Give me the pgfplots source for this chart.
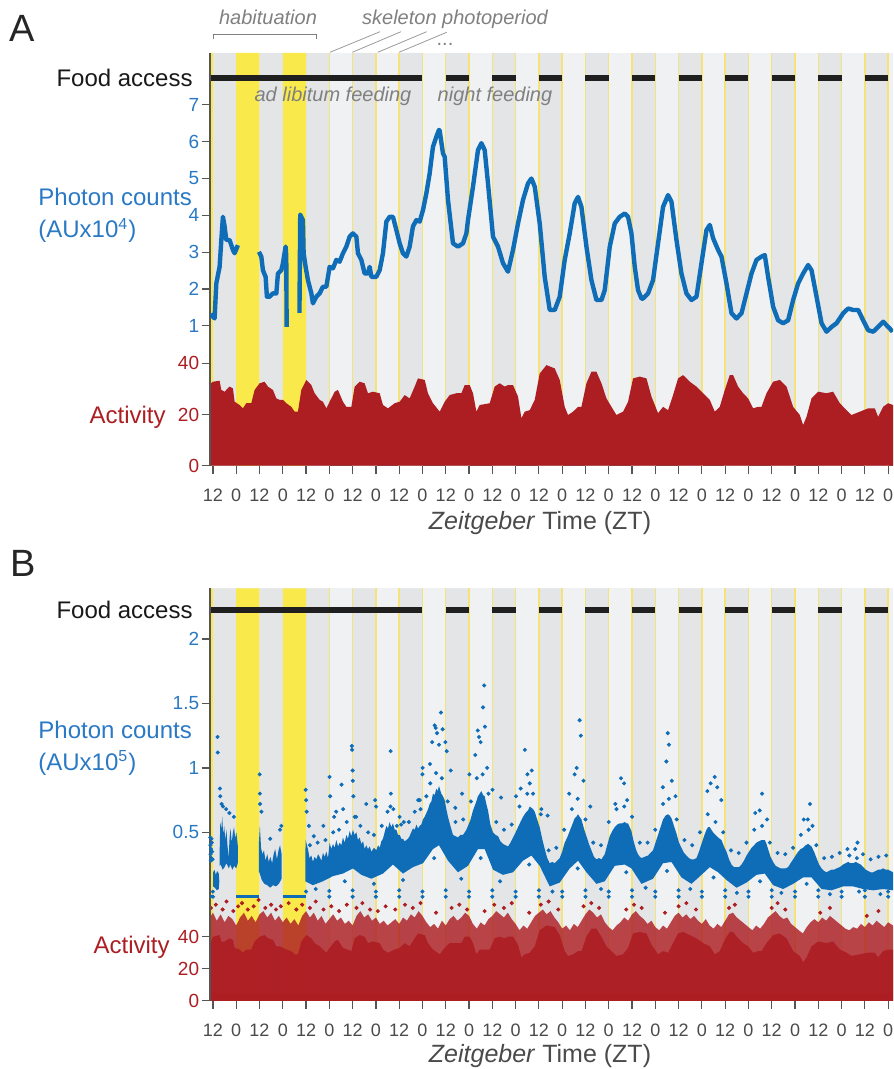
\documentclass[border=0pt]{standalone}
\usepackage{fontspec}
\setmainfont{Liberation Sans}
\usepackage{pgfplots}
\pgfplotsset{compat=1.18}

\definecolor{nightgray}{HTML}{E3E5E7}
\definecolor{daygray}{HTML}{F0F1F3}
\definecolor{lightyel}{HTML}{F9E94B}
\definecolor{yline}{HTML}{F4E27A}
\definecolor{pblue}{HTML}{0F6DB7}
\definecolor{tblue}{HTML}{2A79C4}
\definecolor{ared}{HTML}{AD1E23}
\definecolor{axgray}{HTML}{555555}
\definecolor{txtgray}{HTML}{4A4A4A}
\definecolor{notegray}{HTML}{808080}

\pgfplotsset{
  panel/.style={scale only axis, width=341.5pt, xmin=10.5, xmax=362.5, anchor=south west,
    /pgf/number format/assume math mode=true, tick align=outside, major tick length=4.25pt,
    axis line style={draw=axgray, line width=0.7pt, -}, tick style={draw=axgray, line width=0.6pt},
    yticklabel style={font=\fontsize{9.5}{11}\selectfont, inner sep=1pt}},
  bgaxis/.style={panel, ymin=0, ymax=1, axis x line*=bottom, axis y line*=left, ytick=\empty,
    xtick={12,24,...,360},
    xticklabels={12,0,12,0,12,0,12,0,12,0,12,0,12,0,12,0,12,0,12,0,12,0,12,0,12,0,12,0,12,0},
    xticklabel style={font=\fontsize{9}{10}\selectfont, text=txtgray, yshift=-4pt},
    axis background/.style={fill=daygray}},
  overlay/.style={panel, hide x axis, axis y line*=left},
  bdots/.style={only marks, mark=*, mark size=0.8pt, color=pblue},
  rdots/.style={only marks, mark=*, mark size=0.8pt, color=ared},
}

% shared day/night shading
\newcommand{\bands}[1]{%
  \addplot[ybar interval, fill=nightgray, draw=none] coordinates {
    (12,1)(24,0)(36,1)(48,0)(60,1)(72,0)(84,1)(96,0)(108,1)(120,0)(132,1)(144,0)
    (156,1)(168,0)(180,1)(192,0)(204,1)(216,0)(228,1)(240,0)(252,1)(264,0)(276,1)(288,0)
    (300,1)(312,0)(324,1)(336,0)(348,1)(360,0)(362.5,0)};
  \addplot[ybar interval, fill=lightyel, draw=none] coordinates {
    (10.5,1)(12,0)(24,1)(36,0)(48,1)(60,0)(62,0)};
  \addplot[ycomb, draw=yline, line width=0.7pt, mark=none] coordinates {
    (72,1)(84,1)(96,1)(108,1)(120,1)(132,1)(144,1)(156,1)(168,1)(180,1)(192,1)(204,1)(216,1)
    (228,1)(240,1)(252,1)(264,1)(276,1)(288,1)(300,1)(312,1)(324,1)(336,1)(348,1)(360,1)};
  \addplot[draw=black!88, line width=2.8pt, unbounded coords=jump] coordinates {
    (10.5,#1)(120,#1)(126,nan)(132,#1)(144,#1)(150,nan)(156,#1)(168,#1)(174,nan)
    (180,#1)(192,#1)(198,nan)(204,#1)(216,#1)(222,nan)(228,#1)(240,#1)(246,nan)
    (252,#1)(264,#1)(270,nan)(276,#1)(288,#1)(294,nan)(300,#1)(312,#1)(318,nan)
    (324,#1)(336,#1)(342,nan)(348,#1)(360,#1)};
}

\begin{document}
\begin{tikzpicture}
\useasboundingbox (0,0) rectangle (446.5pt,-534.5pt);

% ---------------- panel A ----------------
\begin{axis}[bgaxis, at={(105pt,-232.85pt)}, height=206.35pt]
  \bands{0.9394}
\end{axis}

\begin{axis}[overlay, at={(105pt,-232.85pt)}, height=206.35pt, ymin=0, ymax=161.2,
  ytick={0,20,40}, yticklabel style={text=ared}]
  \addplot[fill=ared, draw=none] coordinates {
    (10.5,27)(11.0,32.2)(12.0,32.8)(15.45,33.2)(16.32,29.6)(18.03,28.9)(18.9,29.6)(20.6,30.9)
    (22.31,30.2)(23.18,25.0)(25.76,23.7)(27.47,22.4)(29.21,24.4)(31.79,24.4)(33.5,29.6)
    (36.07,32.2)(38.65,32.8)(40.35,30.9)(42.93,29.6)(44.68,26.3)(46.38,25.7)(48.08,25.7)
    (49.84,24.4)(52.41,23.0)(54.12,21.1)(55.82,21.1)(57.56,29.6)(60.14,33.5)(62.73,31.5)
    (64.42,28.3)(67.0,25.7)(68.7,25.0)(70.46,22.4)(72.16,25.0)(74.74,28.9)(76.44,29.6)
    (79.02,25.0)(80.77,23.0)(83.35,23.0)(85.05,30.9)(87.62,32.8)(90.2,32.2)(91.91,28.3)
    (94.49,28.9)(97.94,28.3)(99.64,23.7)(102.22,22.4)(105.67,24.4)(108.25,25.0)(110.83,27.6)
    (113.4,26.3)(115.98,30.9)(117.68,34.1)(121.14,33.5)(122.84,28.3)(125.41,24.4)(128.87,21.1)
    (131.44,25.0)(134.02,27.6)(137.48,28.3)(140.05,28.3)(141.76,31.5)(144.33,31.5)(146.04,28.3)
    (147.79,21.1)(149.49,23.7)(154.64,24.4)(157.22,30.9)(159.8,32.2)(162.38,30.9)(164.08,31.5)
    (166.66,31.5)(169.24,27.0)(170.99,18.5)(172.69,21.1)(175.27,21.7)(177.85,25.7)(180.42,36.0)
    (183.88,39.3)(188.16,38.0)(190.73,33.5)(193.31,23.0)(195.01,19.8)(197.59,21.1)(200.17,23.0)
    (201.92,23.0)(204.5,32.2)(207.08,36.7)(209.66,36.7)(212.23,32.2)(214.81,26.3)(217.39,23.0)
    (219.97,19.8)(223.37,21.1)(225.95,25.0)(228.53,34.1)(231.98,34.8)(235.44,34.1)(238.01,27.0)
    (241.42,20.5)(243.99,23.0)(246.57,21.7)(249.15,27.6)(251.72,34.1)(254.3,35.4)(257.75,32.8)
    (261.21,30.9)(264.61,28.3)(268.07,25.7)(270.65,21.1)(273.22,23.0)(275.8,29.6)(278.37,35.4)
    (280.08,35.4)(282.66,30.9)(285.24,28.3)(287.81,26.3)(290.39,22.4)(292.97,23.0)(294.72,23.0)
    (297.3,28.3)(300.71,32.8)(304.15,33.5)(307.61,30.9)(311.03,23.0)(314.46,19.8)(316.18,15.9)
    (317.92,19.1)(320.5,26.3)(323.9,28.9)(328.23,28.3)(331.63,28.9)(335.08,24.4)(338.54,21.7)
    (341.11,19.8)(345.39,21.1)(349.67,22.4)(353.12,22.4)(354.82,19.1)(357.4,23.0)(359.98,24.4)
    (362.5,23.7)} \closedcycle;
\end{axis}

\begin{axis}[overlay, at={(105pt,-232.85pt)}, height=206.35pt, ymin=-2.80, ymax=8.41,
  ytick={1,2,...,7}, yticklabel style={text=tblue}]
  \addplot[pblue, line width=2.2pt, line join=round, unbounded coords=jump] coordinates {
    (11.17,1.34)(12.0,1.25)(12.87,1.2)(13.75,2.15)(15.45,2.6)(16.3,3.3)(17.15,3.96)(18.03,3.7)
    (18.9,3.33)(20.6,3.33)(22.31,3.06)(23.18,2.97)(24.88,3.19)(30,nan)
    (35.71,3.01)(36.95,2.88)(37.77,2.51)(39.16,2.33)(39.83,1.79)(41.23,1.79)(42.93,1.88)
    (44.68,1.88)(45.51,2.42)(47.26,2.51)(48.08,2.7)(49.47,3.15)(49.8,2.9)(50.0,0.97)(53,nan)
    (56.6,1.35)(57.0,4.02)(57.6,3.95)(58.39,3.87)(58.75,2.97)(59.79,2.6)(60.97,2.24)(62.73,1.88)
    (63.55,1.61)(65.3,1.79)(67.0,1.88)(68.7,2.06)(70.46,2.06)(72.16,2.6)(73.86,2.56)(75.61,2.79)
    (77.31,2.74)(79.02,2.97)(80.77,3.15)(82.47,3.42)(84.17,3.51)(85.93,3.42)(86.75,2.97)(88.5,2.79)
    (90.2,2.42)(91.91,2.42)(92.78,2.6)(93.66,2.33)(96.24,2.33)(97.94,2.51)(99.64,2.97)(101.39,3.83)
    (103.09,3.96)(104.79,3.96)(106.55,3.6)(108.25,3.24)(109.95,2.97)(111.7,2.88)(113.4,3.15)
    (115.1,3.7)(116.86,3.87)(118.56,3.83)(120.26,4.14)(122.01,4.6)(123.71,5.14)(125.41,5.86)
    (127.17,6.14)(128.51,6.32)(128.87,6.3)(130.57,5.68)(131.44,5.59)(133.15,4.42)(135.73,3.24)
    (138.3,3.15)(140.88,3.24)(142.63,3.51)(143.46,3.87)(146.04,4.78)(148.61,5.77)(150.37,5.96)
    (152.07,5.77)(153.77,4.87)(156.35,3.42)(158.93,3.15)(161.51,2.7)(164.08,2.47)(166.66,3.06)
    (169.24,3.78)(171.82,4.42)(174.4,4.87)(176.15,5.0)(177.85,4.78)(180.42,3.78)(183.0,2.33)
    (185.58,1.43)(188.16,1.43)(190.73,1.79)(193.31,2.79)(195.89,3.51)(198.47,4.33)(200.17,4.5)
    (201.92,4.23)(204.5,3.15)(207.08,2.24)(209.66,1.7)(212.23,1.7)(213.94,1.97)(216.52,3.15)
    (219.1,3.78)(221.67,3.96)(224.25,4.05)(225.95,3.96)(227.7,3.51)(229.4,2.6)(231.1,1.97)
    (232.86,1.74)(233.68,1.74)(236.25,1.88)(238.83,2.24)(241.41,3.24)(243.99,4.23)(246.56,4.55)
    (248.32,4.37)(250.9,3.33)(253.47,2.42)(256.05,1.88)(258.63,1.7)(261.21,1.79)(263.79,2.7)
    (266.37,3.6)(268.07,3.74)(269.77,3.38)(272.35,3.06)(274.1,2.88)(276.68,2.15)(279.26,1.34)
    (281.84,1.2)(284.42,1.34)(287.0,1.88)(289.57,2.42)(292.15,2.79)(294.73,2.88)(296.43,2.92)
    (298.13,2.33)(300.71,1.52)(303.29,1.15)(305.87,1.07)(308.45,1.15)(311.03,1.7)(313.6,2.15)
    (316.18,2.42)(318.76,2.65)(320.51,2.51)(323.09,1.79)(325.67,1.07)(328.25,0.84)(330.83,0.97)
    (333.41,1.07)(336.81,1.34)(339.39,1.47)(341.97,1.43)(344.55,1.43)(347.12,1.15)(349.7,0.88)
    (352.28,0.84)(354.86,0.97)(357.44,1.11)(360.02,0.97)(362.3,0.84)};
\end{axis}

% ---------------- panel B ----------------
\begin{axis}[bgaxis, at={(105pt,-500.35pt)}, height=206.2pt]
  \bands{0.9474}
\end{axis}

\begin{axis}[overlay, at={(105pt,-500.35pt)}, height=206.2pt, ymin=0, ymax=257.75,
  ytick={0,20,40}, yticklabel style={text=ared}]
  % sparse upper part of the activity cloud
  \addplot[fill=ared, fill opacity=0.82, draw=none] coordinates {
    (10.5,52)(12,55)(14,50)(16,54)(18,49)(20,53)(22,51)(24,47)(26,52)(28,55)(30,50)(32,53)
    (34,49)(36,54)(38,56)(40,52)(42,55)(44,50)(46,53)(48,49)(50,52)(52,48)(54,51)(56,47)
    (58,53)(60,56)(62,52)(64,55)(66,50)(68,53)(70,48)(72,51)(74,54)(76,50)(78,52)(80,48)
    (82,50)(84,47)(86,53)(88,56)(90,52)(92,54)(94,50)(96,52)(98,48)(100,50)(102,47)(104,49)
    (106,51)(108,48)(110,52)(112,50)(114,54)(116,52)(118,56)(120,53)(122,49)(124,46)(126,48)
    (128,45)(130,50)(132,47)(134,51)(136,53)(138,50)(140,52)(142,55)(144,53)(146,48)(148,45)
    (150,49)(152,47)(154,51)(156,53)(158,56)(160,54)(162,52)(164,55)(166,51)(168,48)(170,44)
    (172,47)(174,45)(176,49)(178,53)(180,55)(182,57)(184,54)(186,56)(188,52)(190,49)(192,45)
    (194,47)(196,44)(198,48)(200,46)(202,50)(204,54)(206,57)(208,55)(210,52)(212,54)(214,49)
    (216,46)(218,44)(220,47)(222,49)(224,52)(226,50)(228,54)(230,56)(232,53)(234,51)(236,48)
    (238,50)(240,46)(242,44)(244,47)(246,45)(248,49)(250,53)(252,55)(254,52)(256,54)(258,51)
    (260,53)(262,50)(264,48)(266,51)(268,47)(270,45)(272,48)(274,46)(276,50)(278,54)(280,55)
    (282,52)(284,50)(286,48)(288,46)(290,44)(292,47)(294,45)(296,48)(298,52)(300,54)(302,56)
    (304,53)(306,51)(308,52)(310,48)(312,46)(314,44)(316,42)(318,46)(320,49)(322,51)(324,49)
    (326,52)(328,50)(330,53)(332,51)(334,49)(336,47)(338,45)(340,44)(342,46)(344,45)(346,48)
    (348,46)(350,49)(352,47)(354,50)(356,48)(358,46)(360,49)(362.5,47)} \closedcycle;
  % dense core of the activity cloud
  \addplot[fill=ared, fill opacity=0.92, draw=none] coordinates {
    (10.5,35)(12,40)(15.45,41)(16.32,37)(18.03,37)(20.6,39)(22.31,38)(23.18,33)(25.76,32)
    (27.47,30)(29.21,32)(31.79,32)(33.5,37)(36.07,40)(38.65,41)(40.35,39)(42.93,38)(44.68,34)
    (46.38,34)(49.84,32)(52.41,31)(54.12,29)(55.82,29)(57.56,37)(60.14,41)(62.73,39)(64.42,36)
    (67.0,34)(70.46,30)(72.16,33)(74.74,37)(76.44,38)(79.02,33)(83.35,31)(85.05,39)(87.62,41)
    (90.2,40)(91.91,36)(94.49,37)(97.94,36)(99.64,32)(102.22,30)(105.67,32)(108.25,33)
    (110.83,36)(113.4,34)(115.98,39)(117.68,42)(121.14,41)(122.84,36)(125.41,32)(128.87,29)
    (131.44,33)(134.02,36)(137.48,36)(140.05,36)(141.76,40)(144.33,40)(146.04,36)(147.79,29)
    (149.49,32)(154.64,32)(157.22,39)(159.8,40)(162.38,39)(164.08,40)(166.66,40)(169.24,35)
    (170.99,27)(172.69,29)(175.27,30)(177.85,34)(180.42,44)(183.88,47)(188.16,46)(190.73,41)
    (193.31,31)(195.01,28)(197.59,29)(200.17,31)(201.92,31)(204.5,40)(207.08,45)(209.66,45)
    (212.23,40)(214.81,34)(217.39,31)(219.97,28)(223.37,29)(225.95,33)(228.53,42)(231.98,43)
    (235.44,42)(238.01,35)(241.42,29)(243.99,31)(246.57,30)(249.15,36)(251.72,42)(254.3,43)
    (257.75,41)(261.21,39)(264.61,36)(268.07,34)(270.65,29)(273.22,31)(275.8,38)(278.37,43)
    (280.08,43)(282.66,39)(285.24,36)(287.81,34)(290.39,30)(292.97,31)(294.72,31)(297.3,36)
    (300.71,41)(304.15,42)(307.61,39)(311.03,31)(314.46,28)(316.18,24)(317.92,27)(320.5,34)
    (323.9,37)(328.23,36)(331.63,37)(335.08,32)(338.54,30)(341.11,28)(345.39,29)(349.67,30)
    (353.12,30)(354.82,27)(357.4,31)(359.98,32)(362.5,32)} \closedcycle;
  \addplot[fill=ared, draw=none] coordinates {(10.5,5)(362.5,5)} \closedcycle;
  \addplot[rdots] coordinates {
    (11,58)(13.5,60)(17,57)(19,62)(22.5,56)(25,59)(27,61)(30,57)(33,59)(35.5,63)(39,58)(42,60)
    (44.5,57)(47,59)(51,61)(55,57)(58,60)(62,58)(65,62)(69,57)(73,59)(77,56)(81,60)(86,58)
    (89,61)(93,57)(97,56)(101,59)(106,57)(111,60)(115,58)(119,61)(127,55)(135,58)(139,60)
    (143,57)(152,56)(157,60)(162,58)(166,61)(175,55)(181,60)(185,62)(190,57)(203,59)(207,61)
    (211,58)(225,57)(229,60)(233,58)(245,55)(252,59)(256,61)(261,57)(278,58)(281,60)(300,58)
    (303,61)(307,57)(325,55)(330,58)(349,53)(355,56)};
\end{axis}

\begin{axis}[overlay, at={(105pt,-500.35pt)}, height=206.2pt, ymin=-0.807, ymax=2.394,
  ytick={0.5,1,1.5,2}, yticklabel style={text=tblue}]
  \addplot[pblue, line width=1.3pt, unbounded coords=jump] coordinates {
    (10.5,0)(12,0)(18,nan)(24,0)(36,0)(42,nan)(48,0)(60,0)};
  \addplot[fill=pblue, draw=none] coordinates {
    (12.1,0.19)(12.8,0.21)(13.5,0.17)(14.2,0.20)(15.0,0.18)(15.3,0.12)(15.0,0.06)(14.0,0.05)
    (13.0,0.07)(12.1,0.08)};
  \addplot[fill=pblue, draw=none] coordinates {
    (15.4,0.30)(15.8,0.58)(16.3,0.52)(16.8,0.62)(17.3,0.48)(17.8,0.55)(18.4,0.44)(19.0,0.52)
    (19.5,0.40)(20.1,0.30)(20.6,0.46)(21.1,0.53)(21.7,0.42)(22.3,0.50)(22.9,0.54)(23.5,0.45)
    (24.1,0.50)(24.8,0.40)(24.8,0.26)(24.0,0.22)(23.0,0.24)(22.0,0.21)(21.0,0.25)(20.2,0.22)
    (19.0,0.26)(18.0,0.23)(17.0,0.21)(16.0,0.25)(15.4,0.24)};
  \addplot[fill=pblue, draw=none] coordinates {
    (35.7,0.42)(36.2,0.55)(36.8,0.38)(37.5,0.33)(38.3,0.36)(39.1,0.28)(40.0,0.33)(40.8,0.27)
    (41.6,0.31)(42.5,0.26)(43.3,0.33)(44.1,0.37)(45.0,0.29)(45.8,0.36)(46.6,0.40)(47.4,0.33)
    (47.4,0.14)(46.0,0.10)(44.5,0.08)(43,0.09)(41.5,0.07)(40,0.09)(38.5,0.10)(37.2,0.13)(35.7,0.20)};
  \addplot[fill=pblue, draw=none] coordinates {
    (59.6,0.30)(59.8,0.44)(60.97,0.37)(61.8,0.30)(62.73,0.32)(63.55,0.27)(64.4,0.31)(65.3,0.29)
    (66.2,0.33)(67.0,0.31)(67.9,0.28)(68.7,0.34)(69.6,0.31)(70.46,0.35)(71.3,0.3)(72.16,0.42)
    (73.0,0.37)(73.86,0.41)(74.7,0.38)(75.61,0.44)(76.5,0.39)(77.31,0.42)(78.2,0.40)(79.02,0.46)
    (79.9,0.42)(80.77,0.48)(81.6,0.45)(82.47,0.51)(83.3,0.47)(84.17,0.52)(85.0,0.48)(85.93,0.50)
    (86.75,0.44)(87.6,0.46)(88.5,0.41)(89.4,0.43)(90.2,0.37)(91.0,0.40)(91.91,0.37)(92.8,0.39)
    (93.66,0.35)(95.0,0.38)(96.24,0.36)(97.1,0.40)(97.94,0.38)(98.8,0.43)(99.64,0.45)(100.5,0.50)
    (101.39,0.55)(102.2,0.53)(103.09,0.58)(103.9,0.54)(104.79,0.57)(105.7,0.52)(106.55,0.52)
    (107.4,0.48)(108.25,0.48)(109.1,0.45)(109.95,0.45)(110.8,0.43)(111.7,0.44)(112.5,0.45)
    (113.4,0.47)(114.2,0.50)(115.1,0.53)(116.0,0.52)(116.86,0.56)(117.7,0.53)(118.56,0.55)
    (119.4,0.56)(120.26,0.60)(121.1,0.62)(122.01,0.65)(122.9,0.68)(123.71,0.72)(124.6,0.74)
    (125.41,0.80)(126.3,0.79)(127.17,0.84)(127.8,0.82)(128.51,0.86)(129.7,0.80)(130.57,0.78)
    (131.44,0.75)(132.3,0.68)(133.15,0.62)(134.4,0.55)(135.73,0.48)(137.0,0.47)(138.3,0.46)
    (139.6,0.48)(140.88,0.48)(141.8,0.50)(142.63,0.52)(143.46,0.55)(144.8,0.60)(146.04,0.67)
    (147.3,0.72)(148.61,0.78)(149.5,0.80)(150.37,0.82)(151.2,0.79)(152.07,0.78)(152.9,0.72)
    (153.77,0.67)(155.0,0.56)(156.35,0.50)(157.6,0.48)(158.93,0.47)(160.2,0.43)(161.51,0.41)
    (162.8,0.40)(164.08,0.39)(165.4,0.42)(166.66,0.46)(168.0,0.50)(169.24,0.54)(170.5,0.58)
    (171.82,0.62)(173.1,0.65)(174.4,0.67)(175.3,0.70)(176.15,0.69)(177.0,0.68)(177.85,0.66)
    (179.1,0.60)(180.42,0.54)(181.7,0.45)(183.0,0.37)(184.3,0.30)(185.58,0.26)(186.9,0.27)
    (188.16,0.26)(189.4,0.28)(190.73,0.30)(192.0,0.35)(193.31,0.42)(194.6,0.46)(195.89,0.51)
    (197.2,0.56)(198.47,0.61)(199.3,0.62)(200.17,0.64)(201.0,0.62)(201.92,0.60)(203.2,0.53)
    (204.5,0.47)(205.8,0.41)(207.08,0.36)(208.4,0.31)(209.66,0.29)(211.0,0.30)(212.23,0.29)
    (213.94,0.33)(215.2,0.40)(216.52,0.47)(217.8,0.51)(219.1,0.54)(220.4,0.56)(221.67,0.57)
    (222.9,0.57)(224.25,0.58)(225.1,0.57)(225.95,0.57)(226.8,0.54)(227.7,0.51)(228.5,0.45)
    (229.4,0.40)(230.2,0.36)(231.1,0.33)(232.0,0.31)(232.86,0.30)(234.5,0.31)(236.25,0.32)
    (237.5,0.34)(238.83,0.36)(240.1,0.42)(241.41,0.48)(242.7,0.54)(243.99,0.60)(245.3,0.63)
    (246.56,0.64)(247.4,0.63)(248.32,0.61)(249.6,0.55)(250.9,0.49)(252.2,0.42)(253.47,0.38)
    (254.8,0.34)(256.05,0.32)(257.3,0.30)(258.63,0.29)(259.9,0.29)(261.21,0.30)(262.5,0.35)
    (263.79,0.41)(265.1,0.47)(266.37,0.52)(267.2,0.54)(268.07,0.54)(268.9,0.52)(269.77,0.50)
    (271.0,0.48)(272.35,0.46)(273.2,0.45)(274.1,0.44)(275.4,0.39)(276.68,0.35)(278.0,0.29)
    (279.26,0.25)(280.5,0.23)(281.84,0.23)(283.1,0.23)(284.42,0.25)(285.7,0.28)(287.0,0.32)
    (288.3,0.35)(289.57,0.38)(290.9,0.40)(292.15,0.42)(293.4,0.43)(294.73,0.44)(295.6,0.44)
    (296.43,0.44)(297.3,0.41)(298.13,0.37)(299.4,0.31)(300.71,0.27)(302.0,0.24)(303.29,0.23)
    (304.6,0.22)(305.87,0.22)(307.2,0.22)(308.45,0.23)(309.7,0.26)(311.03,0.29)(312.3,0.32)
    (313.6,0.35)(314.9,0.37)(316.18,0.38)(317.5,0.40)(318.76,0.41)(319.6,0.40)(320.51,0.39)
    (321.8,0.35)(323.09,0.30)(324.4,0.25)(325.67,0.22)(327.0,0.20)(328.25,0.19)(329.5,0.20)
    (330.83,0.21)(332.1,0.21)(333.41,0.22)(335.1,0.23)(336.81,0.25)(338.1,0.26)(339.39,0.27)
    (340.7,0.26)(341.97,0.26)(343.3,0.27)(344.55,0.26)(345.8,0.25)(347.12,0.23)(348.4,0.21)
    (349.7,0.20)(351.0,0.19)(352.28,0.19)(353.6,0.20)(354.86,0.21)(356.1,0.21)(357.44,0.22)
    (358.7,0.21)(360.02,0.21)(361.2,0.20)(362.5,0.19)
    (362.5,0.05)(357.44,0.06)(352.28,0.05)(347.12,0.06)(341.97,0.08)(336.81,0.08)(330.83,0.05)
    (325.67,0.06)(320.51,0.15)(316.18,0.15)(311.03,0.10)(305.87,0.06)(300.71,0.09)(296.43,0.18)
    (292.15,0.17)(287.0,0.11)(281.84,0.07)(276.68,0.13)(272.35,0.19)(268.07,0.23)(263.79,0.17)
    (258.63,0.10)(253.47,0.15)(248.32,0.27)(243.99,0.26)(238.83,0.14)(232.86,0.10)(227.7,0.22)
    (224.25,0.25)(219.1,0.24)(213.94,0.12)(209.66,0.10)(204.5,0.19)(200.17,0.28)(195.89,0.22)
    (190.73,0.11)(185.58,0.08)(180.42,0.24)(176.15,0.32)(171.82,0.28)(166.66,0.19)(161.51,0.17)
    (156.35,0.21)(152.07,0.37)(148.61,0.37)(143.46,0.24)(138.3,0.19)(133.15,0.28)(128.51,0.40)
    (125.41,0.37)(120.26,0.26)(115.1,0.23)(109.95,0.18)(104.79,0.25)(99.64,0.18)(93.66,0.14)
    (88.5,0.17)(84.17,0.22)(79.02,0.18)(73.86,0.16)(68.7,0.12)(63.55,0.09)(59.6,0.12)};
  % scattered readings at the edges of the cloud
  \addplot[bdots] coordinates {
    (62,0.40)(66,0.42)(70,0.44)(74,0.50)(77,0.52)(81,0.58)(85,0.62)(88,0.55)(92,0.50)(95,0.48)
    (99,0.55)(102,0.66)(105,0.68)(109,0.56)(113,0.58)(116,0.66)(119,0.68)(122,0.78)(124,0.88)
    (127,0.96)(130,0.92)(133,0.74)(137,0.58)(141,0.60)(145,0.74)(148,0.92)(151,0.95)(154,0.80)
    (158,0.58)(162,0.52)(166,0.56)(170,0.70)(174,0.80)(177,0.80)(181,0.64)(185,0.36)(189,0.38)
    (193,0.52)(197,0.68)(200,0.76)(204,0.60)(208,0.42)(212,0.40)(216,0.58)(220,0.68)(224,0.70)
    (228,0.62)(232,0.42)(236,0.42)(240,0.52)(244,0.72)(247,0.76)(251,0.60)(255,0.44)(259,0.40)
    (263,0.50)(267,0.64)(271,0.58)(275,0.50)(279,0.36)(283,0.34)(287,0.42)(291,0.52)(295,0.55)
    (299,0.42)(303,0.34)(307,0.33)(311,0.38)(315,0.48)(319,0.52)(323,0.40)(327,0.30)(331,0.31)
    (335,0.34)(339,0.37)(343,0.37)(347,0.33)(351,0.29)(355,0.31)(359,0.32)
    (65,0.06)(80,0.12)(95,0.10)(110,0.13)(126,0.30)(140,0.14)(150,0.30)(160,0.12)(175,0.25)
    (187,0.04)(200,0.22)(212,0.06)(225,0.19)(235,0.07)(246,0.2)(258,0.06)(270,0.15)(282,0.03)
    (294,0.12)(305,0.03)(318,0.10)(330,0.02)(345,0.04)(356,0.02)
    (10.6,0.46)(10.7,0.40)(10.8,0.33)(11.0,0.37)(11.2,0.30)(11.4,0.42)(11.6,0.35)(11.8,0.29)
    (10.9,0.28)(11.3,0.45)
    (12,0)(12,0.04)(60,0.04)(72,0)(72,0.045)(84,0)(84,0.05)(96,0)(96,0.04)(108,0)(108,0.05)
    (120,0)(120,0.04)(132,0)(132,0.05)(144,0)(144,0.04)(156,0)(156,0.05)(168,0)(168,0.04)
    (180,0)(180,0.05)(192,0)(192,0.04)(204,0)(204,0.05)(216,0)(216,0.04)(228,0)(228,0.05)
    (240,0)(240,0.04)(252,0)(252,0.05)(264,0)(264,0.04)(276,0)(276,0.05)(288,0)(288,0.04)
    (300,0)(300,0.05)(312,0)(312,0.04)(324,0)(324,0.05)(336,0)(336,0.04)(348,0)(348,0.05)
    (360,0)(360,0.04)
    (14.4,1.24)(14.5,1.12)(15.6,0.84)(15.8,0.78)(16.5,0.72)(17.2,0.7)(18.8,0.68)(20.5,0.65)
    (22.8,0.62)(36.1,0.95)(36.2,0.8)(36.3,0.72)(37.0,0.66)(41.5,0.45)(46.6,0.52)(47.3,0.55)
    (59.8,0.83)(60.0,0.75)(60.3,0.66)(61.5,0.55)(64,0.47)(68.9,0.55)(72.1,0.93)(72.4,0.78)
    (74.5,0.62)(75.5,0.66)(78.3,0.87)(79.1,0.68)(83.6,1.17)(83.7,1.14)(84.0,0.98)(84.1,0.9)
    (84.4,0.78)(85.8,0.62)(91,0.72)(95.6,0.75)(96.1,0.7)(103.6,1.13)(103.7,0.8)(103.5,0.7)
    (106.8,0.55)(108.2,0.62)(110.4,0.58)(117.8,0.75)(118.6,0.75)(120.0,0.95)(120.1,1.0)
    (123.9,1.03)(125.0,1.2)(126.3,1.33)(126.8,1.31)(127.5,1.27)(128.5,1.18)(129.5,1.43)
    (130.4,1.3)(131.8,1.2)(132.5,1.13)(134.6,0.98)(136.9,0.69)(140.4,0.8)(144.2,0.95)
    (147.2,1.1)(148.5,1.29)(149.1,1.24)(150.0,1.2)(151.2,1.47)(151.8,1.64)(152.2,1.32)
    (153.3,1.0)(156.1,0.83)(160.5,0.77)(168.2,0.78)(170.6,0.84)(172.8,1.14)(174.1,0.95)
    (175.3,0.88)(176.3,0.98)(181.3,0.68)(184.5,0.63)(195.6,0.8)(198.4,0.95)(199.5,1.0)
    (201.0,1.37)(201.6,1.25)(203.0,0.9)(206.5,0.7)(219.4,0.72)(222.3,0.92)(223.9,0.88)
    (225.5,0.75)(243.9,0.85)(245.7,1.05)(246.4,1.27)(247.0,1.18)(248.5,0.9)(250.4,0.78)
    (266.8,0.82)(268.5,0.88)(270.6,0.93)(271.9,0.85)(274.0,0.75)(291.5,0.65)(293.8,0.67)
    (295.0,0.8)(297.6,0.6)(316.5,0.6)(318.6,0.6)(319.7,0.72)(321,0.55)(343.9,0.3)(344.2,0.42)
    (340,0.32)};
\end{axis}

% ---------------- annotations (pixel grid of the reference) ----------------
\begin{scope}[x=0.5pt, y=-0.5pt]
  \node[anchor=base west, font=\fontsize{19}{22}\selectfont, text=black!85, inner sep=0pt] at (9,42) {A};
  \node[anchor=base west, font=\fontsize{19}{22}\selectfont, text=black!85, inner sep=0pt] at (10,576) {B};
  \node[anchor=base, font=\fontsize{10}{12}\selectfont\itshape, text=notegray, inner sep=0pt] at (268,25) {habituation};
  \draw[notegray, line width=0.45pt] (213.3,39.3) -- (213.3,34.3) -- (316.7,34.3) -- (316.7,39.3);
  \node[anchor=base, font=\fontsize{10}{12}\selectfont\itshape, text=notegray, inner sep=0pt] at (455,25) {skeleton photoperiod};
  \draw[notegray!80, line width=0.4pt] (330,52.3) -- (380,31.7) (352.3,52.3) -- (401,31.7)
     (377.7,52.3) -- (426.7,31.7) (399,52.3) -- (446.7,32.3);
  \node[anchor=base, font=\fontsize{10}{12}\selectfont, text=notegray, inner sep=0pt] at (445,46) {...};
  \node[anchor=base, font=\fontsize{10}{12}\selectfont\itshape, text=notegray, inner sep=0pt] at (333,102) {ad libitum feeding};
  \node[anchor=base, font=\fontsize{10}{12}\selectfont\itshape, text=notegray, inner sep=0pt] at (495,102) {night feeding};
  \foreach \yy/\pc/\ac/\sup/\ar in {86.5/206/423/4/166, 618.5/738/953/5/170} {
    \node[anchor=base east, font=\fontsize{12}{14}\selectfont, text=black!90, inner sep=0pt] at (193,\yy) {Food access};
    \node[anchor=base west, font=\fontsize{12}{14}\selectfont, text=tblue, inner sep=0pt] at (38,\pc) {Photon counts};
    \node[anchor=base west, font=\fontsize{12}{14}\selectfont, text=tblue, inner sep=0pt] at (38,\pc+32) {(AUx10\textsuperscript{\sup})};
    \node[anchor=base east, font=\fontsize{12}{14}\selectfont, text=ared, inner sep=0pt] at (\ar,\ac) {Activity};
  }
  \node[anchor=base, font=\fontsize{12.5}{14}\selectfont, text=txtgray, inner sep=0pt] at (540,529) {\textit{Zeitgeber} Time (ZT)};
  \node[anchor=base, font=\fontsize{12.5}{14}\selectfont, text=txtgray, inner sep=0pt] at (540,1062) {\textit{Zeitgeber} Time (ZT)};
\end{scope}
\end{tikzpicture}
\end{document}
